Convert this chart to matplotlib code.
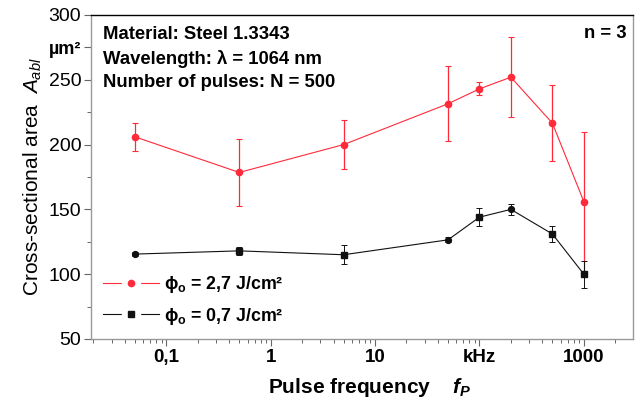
import matplotlib
matplotlib.use("Agg")
import matplotlib.pyplot as plt
import matplotlib.ticker as mticker
from matplotlib.lines import Line2D
from matplotlib.legend_handler import HandlerTuple
import numpy as np

plt.rcParams["font.family"] = ["Liberation Sans", "DejaVu Sans"]
plt.rcParams["mathtext.fontset"] = "custom"
plt.rcParams["mathtext.rm"] = "Liberation Sans"
plt.rcParams["mathtext.it"] = "Liberation Sans:italic"
plt.rcParams["mathtext.bf"] = "Liberation Sans:bold"
plt.rcParams["mathtext.bfit"] = "Liberation Sans:bold:italic"

# pulse frequency in kHz
freq = [0.05, 0.5, 5, 50, 100, 200, 500, 1000]

# fluence 2,7 J/cm2
red_area = [206, 178.5, 200, 231.5, 243, 252, 216.5, 156]
red_err = [11, 26, 19, 29, 5, 31, 29.5, 54]

# fluence 0,7 J/cm2
blk_area = [115.5, 118, 115, 126.5, 144, 150, 131, 100]
blk_err = [1.5, 3, 7.5, 2, 7, 4, 6.5, 10.5]
blk_markers = ["o", "s", "s", "o", "s", "o", "s", "s"]

xtick_vals = [0.1, 1, 10, 100, 1000]
xtick_labels = ["0,1", "1", "10", "kHz", "1000"]
ytick_vals = [50, 100, 150, 200, 250, 275, 300]
ytick_labels = ["50", "100", "150", "200", "250", "µm²", "300"]

C_RED = "#ff2a3a"
C_BLK = "#111111"

fig = plt.figure(figsize=(6.36, 4.05), dpi=100)
ax = fig.add_axes([0.1431, 0.163, 0.852, 0.800])

# red series
ax.errorbar(freq, red_area, yerr=red_err, color=C_RED, lw=0.8, elinewidth=0.9,
            capsize=2.5, capthick=0.8, marker="o", ms=4.5, zorder=3)

# black series
ax.errorbar(freq, blk_area, yerr=blk_err, color=C_BLK, lw=0.8, elinewidth=0.7,
            capsize=2.5, capthick=0.7, fmt="-", zorder=4)
for f, a, m in zip(freq, blk_area, blk_markers):
    ax.plot(f, a, marker=m, color=C_BLK, ms=4.2, ls="none", zorder=5)

ax.set_xscale("log")
ax.set_xlim(0.019, 2950)
ax.set_ylim(50, 300)

ax.set_xticks(xtick_vals)
ax.set_xticklabels(xtick_labels, fontsize=13.5, fontweight="bold")
ax.xaxis.set_minor_locator(mticker.LogLocator(base=10, subs=np.arange(2, 10)))
ax.xaxis.set_minor_formatter(mticker.NullFormatter())

ax.set_yticks(ytick_vals)
ax.set_yticklabels(ytick_labels, fontsize=14)
ax.set_yticks([75, 125, 175, 225], minor=True)
ax.get_yticklabels()[5].set_fontweight("bold")
ax.get_yticklabels()[5].set_fontsize(13)

ax.tick_params(which="major", direction="out", length=5, width=0.8, color="#666666", pad=2)
ax.tick_params(which="minor", direction="out", length=3, width=0.7, color="#666666")

for side in ["left", "bottom", "right"]:
    ax.spines[side].set_color("#999999")
    ax.spines[side].set_linewidth(1.0)
ax.spines["top"].set_color("black")
ax.spines["top"].set_linewidth(1.0)

ax.set_ylabel("Cross-sectional area  $A_{abl}$", fontsize=15, labelpad=3)
ax.set_xlabel("Pulse frequency    $\\mathbfit{f_P}$", fontsize=15, fontweight="bold")
ax.xaxis.set_label_coords(0.515, -0.115)

ax.text(0.022, 0.941, "Material: Steel 1.3343", transform=ax.transAxes,
        fontsize=13.3, fontweight="bold", va="center")
ax.text(0.022, 0.864, "Wavelength: λ = 1064 nm", transform=ax.transAxes,
        fontsize=13.3, fontweight="bold", va="center")
ax.text(0.022, 0.793, "Number of pulses: N = 500", transform=ax.transAxes,
        fontsize=13.3, fontweight="bold", va="center")
ax.text(0.989, 0.944, "n = 3", transform=ax.transAxes,
        fontsize=13.3, fontweight="bold", va="center", ha="right")

# legend handles: line - gap - marker - gap - line
def handle(color, marker, ms):
    back = Line2D([], [], color=color, lw=0.8, marker="o", ms=13,
                  mfc="white", mec="white")
    front = Line2D([], [], color=color, lw=0, marker=marker, ms=ms)
    return (back, front)

ax.legend([handle(C_RED, "o", 4.5), handle(C_BLK, "s", 4.2)],
          ["ϕ$_\\mathbf{o}$ = 2,7 J/cm²", "ϕ$_\\mathbf{o}$ = 0,7 J/cm²"],
          handler_map={tuple: HandlerTuple(ndivide=1)},
          loc="lower left", bbox_to_anchor=(0.0, 0.0), frameon=False,
          prop={"size": 12.8, "weight": "bold"}, handlelength=3.1,
          handletextpad=0.3, labelspacing=0.6, borderaxespad=0.3)

fig.savefig("out.png", dpi=100)
